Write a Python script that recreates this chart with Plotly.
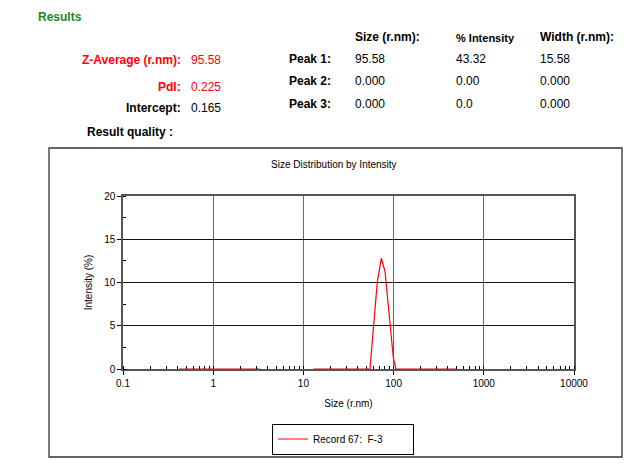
import plotly.graph_objects as go

# ---- data ----
size_nm = [0.42, 3.3, None, 12.9, 54.7, 66.0, 73.1, 80.3, 99.3, 106.0, 500.0]
intensity = [0.0, 0.0, None, 0.0, 0.0, 10.1, 12.8, 11.3, 1.3, 0.0, 0.0]
x_tick_vals = [0.1, 1, 10, 100, 1000, 10000]
x_tick_text = ["0.1", "1", "10", "100", "1000", "10000"]
y_tick_vals = [0, 5, 10, 15, 20]

summary_labels = ["Z-Average (r.nm):", "PdI:", "Intercept:"]
summary_values = ["95.58", "0.225", "0.165"]
summary_colors = ["#ff0000", "#ff0000", "#000000"]
peak_labels = ["Peak 1:", "Peak 2:", "Peak 3:"]
peak_size = ["95.58", "0.000", "0.000"]
peak_intensity = ["43.32", "0.00", "0.0"]
peak_width = ["15.58", "0.000", "0.000"]
series_name = "Record 67:  F-3"

# page has an 8px body margin: work in window pixels, convert to figure pixels
OFF = 8
W, H = 637 - OFF, 467 - OFF
L, R, T, B = 123, 574, 196, 369  # plot area in window pixels
pw, ph = R - L, B - T
FONT = "Arial, Liberation Sans, sans-serif"

def px(x):
    return (x - L) / pw

def py(y):
    return (B - y) / ph

fig = go.Figure()
fig.add_trace(go.Scatter(
    x=size_nm, y=intensity, mode="lines", name=series_name,
    line=dict(color="#ff0000", width=1.2), connectgaps=False,
    showlegend=True,
))

fig.update_layout(
    width=W, height=H, autosize=False,
    margin=dict(l=L - OFF, r=637 - R, t=T - OFF, b=467 - B, pad=0),
    paper_bgcolor="white", plot_bgcolor="white",
    font=dict(family=FONT, size=10, color="#000"),
    showlegend=True,
    legend=dict(
        x=px(343), y=py(439), xanchor="center", yanchor="middle",
        orientation="h", entrywidth=95, entrywidthmode="pixels",
        bordercolor="#000", borderwidth=1, bgcolor="white",
        font=dict(family=FONT, size=10, color="#000"),
        itemwidth=30, tracegroupgap=0,
    ),
    xaxis=dict(
        type="log", range=[-1, 4], tickvals=x_tick_vals, ticktext=x_tick_text,
        ticks="outside", ticklen=4, tickcolor="#000", tickwidth=1,
        showgrid=True, gridcolor="#666", gridwidth=1.3,
        showline=True, linecolor="#555", linewidth=1.5, mirror=True,
        zeroline=False, tickfont=dict(size=10, family=FONT),
        minor=dict(ticks="inside", ticklen=3, tickcolor="#000", dtick="D1", showgrid=False),
        title=dict(text="Size (r.nm)", font=dict(size=10, family=FONT), standoff=12),
    ),
    yaxis=dict(
        range=[0, 20], tickvals=y_tick_vals,
        ticks="outside", ticklen=4, tickcolor="#000", tickwidth=1,
        showgrid=True, gridcolor="#111", gridwidth=1,
        showline=True, linecolor="#555", linewidth=1.5, mirror=True,
        zeroline=False, tickfont=dict(size=10, family=FONT),
        minor=dict(ticks="inside", ticklen=3, tickcolor="#000", dtick=2.5, showgrid=False),
        title=dict(text="Intensity (%)", font=dict(size=10, family=FONT), standoff=10),
    ),
)

# outer chart frame
fig.add_shape(type="rect", xref="paper", yref="paper",
              x0=px(49), x1=px(622), y0=py(457), y1=py(148),
              line=dict(color="#333", width=1.3), layer="below")

def note(text, x, y, size=12, color="#000", bold=False, xanchor="left", yanchor="middle"):
    t = f"<b>{text}</b>" if bold else text
    dx = -2 if xanchor == "left" else (2 if xanchor == "right" else 0)
    fig.add_annotation(text=t, x=px(x + dx), y=py(y), xref="paper", yref="paper",
                       showarrow=False, xanchor=xanchor, yanchor=yanchor,
                       font=dict(family=FONT, size=size, color=color))

note("Size Distribution by Intensity", 334, 164, size=10, xanchor="center")
note("Results", 38, 8, size=12, color="#1a8a1a", bold=True, yanchor="top")

sum_y = [60, 87, 108]
for lab, val, col, yy in zip(summary_labels, summary_values, summary_colors, sum_y):
    note(lab, 181, yy, size=12, color=col, bold=True, xanchor="right")
    note(val, 191, yy, size=12, color=col)
note("Result quality :", 87, 132, size=12, bold=True)

note("Size (r.nm):", 355, 37, size=12, bold=True)
note("% Intensity", 456, 38, size=11, bold=True)
note("Width (r.nm):", 540, 37, size=12, bold=True)
peak_y = [59, 81, 104]
for lab, s, i, w, yy in zip(peak_labels, peak_size, peak_intensity, peak_width, peak_y):
    note(lab, 331, yy, size=12, bold=True, xanchor="right")
    note(s, 355, yy, size=12)
    note(i, 456, yy, size=12)
    note(w, 540, yy, size=12)

fig.write_html("out.html")
